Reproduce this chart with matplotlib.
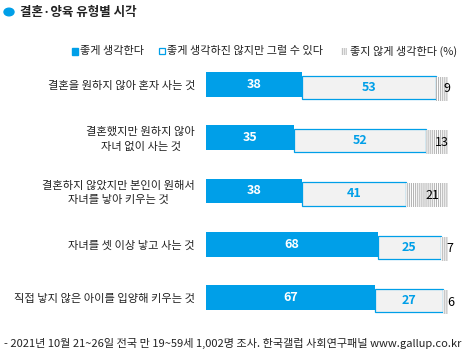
import matplotlib
matplotlib.use('Agg')
import matplotlib.pyplot as plt
from matplotlib.patches import Rectangle, Circle

plt.rcParams['font.family'] = ['Noto Sans CJK KR', 'DejaVu Sans']
plt.rcParams['hatch.color'] = '#b4b4b4'
plt.rcParams['hatch.linewidth'] = 0.75

categories = ['결혼을 원하지 않아 혼자 사는 것',
              '결혼했지만 원하지 않아\n자녀 없이 사는 것',
              '결혼하지 않았지만 본인이 원해서\n자녀를 낳아 키우는 것',
              '자녀를 셋 이상 낳고 사는 것',
              '직접 낳지 않은 아이를 입양해 키우는 것']
good = [38, 35, 38, 68, 67]
okay = [53, 52, 41, 25, 27]
bad = [9, 13, 21, 7, 6]

legend_labels = ['좋게 생각한다', '좋게 생각하진 않지만 그럴 수 있다', '좋지 않게 생각한다 (%)']
title = '결혼·양육 유형별 시각'
footer = '- 2021년 10월 21~26일 전국 만 19~59세 1,002명 조사. 한국갤럽 사회연구패널 www.gallup.co.kr'

BLUE = '#009fe8'
W, H = 467, 356


def fx(px):
    return px / W


def fy(py):
    return 1 - py / H


fig = plt.figure(figsize=(W / 100, H / 100), dpi=100)

# plot area: x 206..448 px, y 60..320 px
ax = fig.add_axes([fx(206), fy(320), fx(448) - fx(206), fy(60) - fy(320)])
ax.set_xlim(0, 95.8)
ax.set_ylim(4.42, -0.456)
ax.axis('off')

rows = list(range(len(categories)))
h = 0.46
off2 = 0.056
off3 = 0.084

ax.barh(rows, good, height=h, color=BLUE, linewidth=0)
ax.barh([r + off2 for r in rows], okay, left=good, height=h - 0.02,
        color='#f2f2f2', edgecolor=BLUE, linewidth=0.9)
left3 = [g + o for g, o in zip(good, okay)]
ax.barh([r + off3 for r in rows], bad, left=left3, height=h - 0.01,
        color='white', edgecolor='#b4b4b4', linewidth=0, hatch='||||||||')

for i in rows:
    ax.text(good[i] / 2, i, str(good[i]), ha='center', va='center',
            color='white', fontsize=9, fontweight='bold')
    ax.text(good[i] + okay[i] / 2, i + off2, str(okay[i]), ha='center', va='center',
            color=BLUE, fontsize=9, fontweight='bold')
    ax.text(left3[i] + bad[i] / 2, i + off3, str(bad[i]), ha='center', va='center',
            color='black', fontsize=9, clip_on=False)
    ax.text(fx(195), ax.transData.transform((0, i + 0.03))[1] / H, categories[i],
            transform=fig.transFigure, ha='right', va='center',
            multialignment='center', fontsize=8.1, color='#222222',
            linespacing=1.55)

# title
fig.patches.append(Circle((fx(9), fy(12)), 5 / W, color=BLUE,
                          transform=fig.transFigure, figure=fig))
fig.text(fx(20), fy(12.5), title, ha='left', va='center', fontsize=9,
         fontweight='bold', color='#222222')

# legend
ly = 51
fig.patches.append(Rectangle((fx(72), fy(ly + 3.5)), 6 / W, 6 / H, facecolor=BLUE,
                             edgecolor=BLUE, transform=fig.transFigure, figure=fig))
fig.text(fx(80), fy(ly), legend_labels[0], ha='left', va='center', fontsize=8, color='#222222')
fig.patches.append(Rectangle((fx(159), fy(ly + 3)), 6 / W, 6 / H, facecolor='white',
                             edgecolor=BLUE, linewidth=0.9, transform=fig.transFigure,
                             figure=fig))
fig.text(fx(167), fy(ly), legend_labels[1], ha='left', va='center', fontsize=8, color='#222222')
fig.patches.append(Rectangle((fx(341), fy(ly + 3.5)), 6 / W, 7 / H, facecolor='white',
                             edgecolor='#b4b4b4', linewidth=0, hatch='||||||||',
                             transform=fig.transFigure, figure=fig))
fig.text(fx(350), fy(ly), legend_labels[2], ha='left', va='center', fontsize=8, color='#222222')

# footer
fig.text(fx(4), fy(343), footer, ha='left', va='center', fontsize=8, color='#222222')

fig.savefig('out.png', dpi=100)
